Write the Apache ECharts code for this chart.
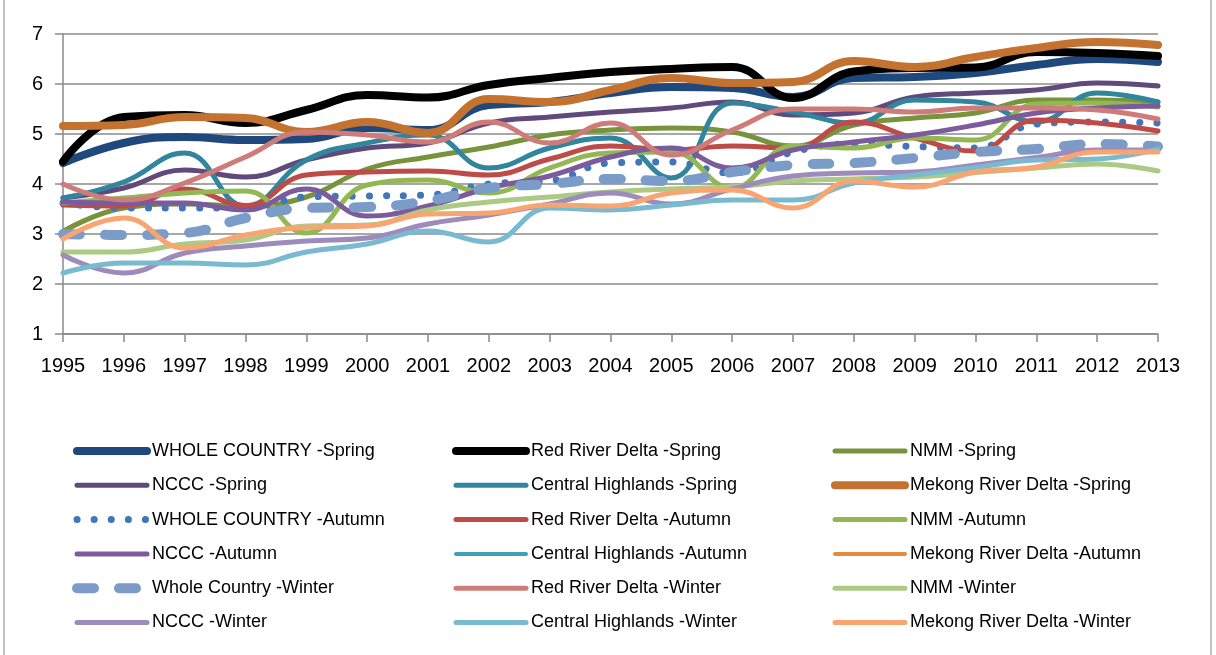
<!DOCTYPE html>
<html>
<head>
<meta charset="utf-8">
<script src="https://cdn.jsdelivr.net/npm/echarts@6/dist/echarts.min.js"></script>
<style>
  html, body { margin: 0; padding: 0; background: #fff; }
  #chart { width: 1216px; height: 655px; }
</style>
</head>
<body>
<div id="chart"></div>
<script>
var years = ['1995', '1996', '1997', '1998', '1999', '2000', '2001', '2002', '2003', '2004',
  '2005', '2006', '2007', '2008', '2009', '2010', '2011', '2012', '2013'];

// spring
var wcSpring   = [4.42, 4.82, 4.94, 4.88, 4.9, 5.12, 5.08, 5.58, 5.64, 5.82, 5.94, 5.92, 5.74, 6.12, 6.14, 6.22, 6.38, 6.5, 6.44];
var rrdSpring  = [4.45, 5.34, 5.38, 5.22, 5.48, 5.78, 5.73, 5.98, 6.12, 6.24, 6.3, 6.34, 5.72, 6.25, 6.32, 6.33, 6.64, 6.62, 6.56];
var nmmSpring  = [3.05, 3.52, 3.6, 3.56, 3.74, 4.3, 4.54, 4.74, 4.98, 5.08, 5.12, 5.04, 4.76, 5.18, 5.32, 5.42, 5.68, 5.68, 5.64];
var ncccSpring = [3.72, 3.92, 4.28, 4.14, 4.48, 4.72, 4.82, 5.22, 5.34, 5.44, 5.52, 5.64, 5.38, 5.42, 5.74, 5.82, 5.88, 6.02, 5.96];
var chSpring   = [3.72, 4.04, 4.62, 3.56, 4.48, 4.82, 4.98, 4.32, 4.72, 4.92, 4.12, 5.62, 5.44, 5.22, 5.68, 5.64, 5.24, 5.82, 5.64];
var mrdSpring  = [5.16, 5.18, 5.34, 5.32, 5.04, 5.24, 5.02, 5.7, 5.64, 5.88, 6.12, 6.02, 6.04, 6.46, 6.34, 6.54, 6.72, 6.84, 6.78];
// autumn
var wcAutumn   = [3.62, 3.52, 3.52, 3.52, 3.74, 3.76, 3.78, 4.0, 4.06, 4.42, 4.44, 4.22, 4.64, 4.8, 4.75, 4.72, 5.2, 5.24, 5.22];
var rrdAutumn  = [3.58, 3.56, 3.9, 3.57, 4.18, 4.24, 4.26, 4.18, 4.5, 4.76, 4.68, 4.76, 4.72, 5.24, 4.92, 4.66, 5.28, 5.22, 5.06];
var nmmAutumn  = [3.62, 3.72, 3.82, 3.86, 3.02, 3.98, 4.08, 3.82, 4.32, 4.62, 4.64, 3.92, 4.76, 4.72, 4.92, 4.88, 5.6, 5.62, 5.54];
var ncccAutumn = [3.64, 3.62, 3.62, 3.48, 3.9, 3.36, 3.56, 3.92, 4.16, 4.54, 4.72, 4.32, 4.68, 4.84, 4.98, 5.18, 5.42, 5.52, 5.56];
var chAutumn   = [3.72, 4.04, 4.62, 3.56, 4.48, 4.82, 4.98, 4.32, 4.72, 4.92, 4.12, 5.62, 5.44, 5.22, 5.68, 5.64, 5.24, 5.82, 5.64];
var mrdAutumn  = [5.16, 5.18, 5.34, 5.32, 5.04, 5.24, 5.02, 5.7, 5.64, 5.88, 6.12, 6.02, 6.04, 6.46, 6.34, 6.54, 6.72, 6.84, 6.78];
// winter
var wcWinter   = [3.0, 2.98, 3.02, 3.32, 3.52, 3.54, 3.66, 3.92, 4.0, 4.1, 4.06, 4.24, 4.38, 4.42, 4.52, 4.64, 4.7, 4.8, 4.75];
var rrdWinter  = [4.0, 3.68, 4.02, 4.54, 5.04, 4.98, 4.84, 5.24, 4.82, 5.22, 4.58, 5.08, 5.5, 5.5, 5.44, 5.52, 5.52, 5.48, 5.3];
var nmmWinter  = [2.64, 2.64, 2.8, 2.88, 3.16, 3.18, 3.48, 3.64, 3.74, 3.84, 3.9, 3.94, 4.06, 4.1, 4.14, 4.23, 4.32, 4.4, 4.26];
var ncccWinter = [2.58, 2.22, 2.62, 2.76, 2.86, 2.92, 3.2, 3.38, 3.6, 3.82, 3.6, 3.9, 4.16, 4.22, 4.24, 4.38, 4.53, 4.68, 4.68];
var chWinter   = [2.22, 2.42, 2.42, 2.38, 2.64, 2.8, 3.06, 2.84, 3.52, 3.48, 3.58, 3.68, 3.68, 4.02, 4.18, 4.33, 4.48, 4.5, 4.7];
var mrdWinter  = [2.9, 3.32, 2.72, 2.98, 3.13, 3.16, 3.4, 3.42, 3.58, 3.56, 3.82, 3.88, 3.52, 4.06, 3.94, 4.24, 4.34, 4.64, 4.64];

var legendCol1 = ['WHOLE COUNTRY -Spring', 'NCCC -Spring', 'WHOLE COUNTRY -Autumn', 'NCCC -Autumn', 'Whole Country -Winter', 'NCCC -Winter'];
var legendCol2 = ['Red River Delta -Spring', 'Central Highlands -Spring', 'Red River Delta -Autumn', 'Central Highlands -Autumn', 'Red River Delta -Winter', 'Central Highlands -Winter'];
var legendCol3 = ['NMM -Spring', 'Mekong River Delta -Spring', 'NMM -Autumn', 'Mekong River Delta -Autumn', 'NMM -Winter', 'Mekong River Delta -Winter'];

var font = 'Liberation Sans, Arial, sans-serif';

function line(name, data, color, width, extra) {
  var s = {
    name: name,
    type: 'line',
    smooth: 0.45,
    symbol: 'none',
    data: data,
    itemStyle: { color: color },
    lineStyle: { color: color, width: width, cap: 'round', join: 'round' }
  };
  if (extra) {
    if (extra.type) s.lineStyle.type = extra.type;
    if (extra.z !== undefined) s.z = extra.z;
  }
  return s;
}

function legendColumn(names, left) {
  return {
    data: names,
    orient: 'vertical',
    left: left,
    top: 441,
    padding: 0,
    itemWidth: 70,
    itemHeight: 14,
    itemGap: 14.3,
    lineStyle: { width: 'inherit', type: 'inherit' },
    // hide the circle that line series put in the middle of the legend icon
    itemStyle: { color: 'rgba(0,0,0,0)', borderWidth: 0, opacity: 0 },
    textStyle: { fontFamily: font, fontSize: 18, color: '#000', lineHeight: 20 },
    selectedMode: false
  };
}

var option = {
  animation: false,
  backgroundColor: '#fff',
  grid: { left: 63, top: 34, width: 1095, height: 300, outerBoundsMode: 'none' },
  legend: [legendColumn(legendCol1, 72), legendColumn(legendCol2, 452), legendColumn(legendCol3, 831)],
  xAxis: {
    type: 'category',
    boundaryGap: false,
    data: years,
    axisLine: { lineStyle: { color: '#8a8a8a', width: 1.5 } },
    axisTick: { show: true, length: 8, interval: 0, lineStyle: { color: '#8a8a8a', width: 1.5 } },
    axisLabel: { interval: 0, margin: 22, fontFamily: font, fontSize: 20, color: '#000' },
    splitLine: { show: false }
  },
  yAxis: {
    type: 'value',
    min: 1,
    max: 7,
    interval: 1,
    axisLine: { show: true, lineStyle: { color: '#8a8a8a', width: 1.5 } },
    axisTick: { show: true, length: 8, lineStyle: { color: '#8a8a8a', width: 1.5 } },
    axisLabel: { margin: 20, fontFamily: font, fontSize: 20, color: '#000' },
    splitLine: { lineStyle: { color: '#8a8a8a', width: 1.5 } }
  },
  graphic: [{
    type: 'rect',
    silent: true,
    shape: { x: 4, y: -10, width: 1207, height: 680 },
    style: { fill: 'none', stroke: '#9a9a9a', lineWidth: 1.2 }
  }],
  series: [
    line('WHOLE COUNTRY -Spring', wcSpring, '#1F497D', 8),
    line('Red River Delta -Spring', rrdSpring, '#000000', 8),
    line('NMM -Spring', nmmSpring, '#77933C', 5),
    line('NCCC -Spring', ncccSpring, '#604A7B', 5),
    line('Central Highlands -Spring', chSpring, '#31859C', 5),
    line('Mekong River Delta -Spring', mrdSpring, '#C4722F', 8),
    line('WHOLE COUNTRY -Autumn', wcAutumn, '#4376B8', 7, { type: [0.1, 17] }),
    line('Red River Delta -Autumn', rrdAutumn, '#BE4B48', 5),
    line('NMM -Autumn', nmmAutumn, '#93B753', 5),
    line('NCCC -Autumn', ncccAutumn, '#7B5B9C', 5),
    line('Central Highlands -Autumn', chAutumn, '#40A0BB', 4, { z: 1 }),
    line('Mekong River Delta -Autumn', mrdAutumn, '#E88A3C', 4, { z: 1 }),
    line('Whole Country -Winter', wcWinter, '#7B9BC9', 10, { type: [17, 25] }),
    line('Red River Delta -Winter', rrdWinter, '#CE7C7A', 5),
    line('NMM -Winter', nmmWinter, '#ADCA85', 5),
    line('NCCC -Winter', ncccWinter, '#9D8BBB', 5),
    line('Central Highlands -Winter', chWinter, '#79BAD0', 5),
    line('Mekong River Delta -Winter', mrdWinter, '#F9A571', 5)
  ]
};

var chart = echarts.init(document.getElementById('chart'));
chart.setOption(option);
</script>
</body>
</html>
